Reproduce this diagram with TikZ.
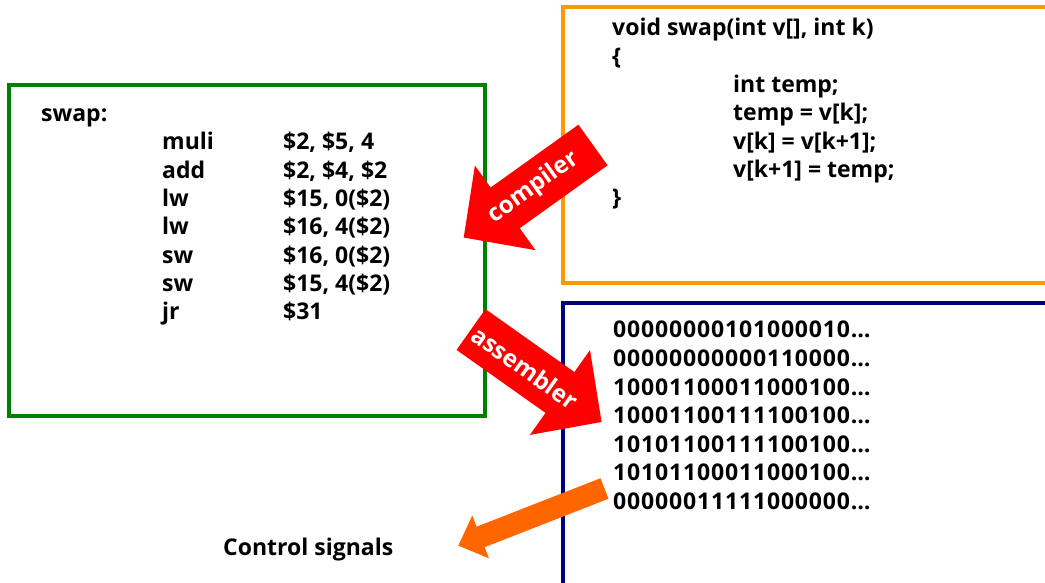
\documentclass[tikz,border=0pt]{standalone}
\usepackage{fontspec}
\setmainfont{Open Sans}
\definecolor{boxorange}{HTML}{FF9900}
\definecolor{boxblue}{HTML}{000080}
\definecolor{boxgreen}{HTML}{008000}
\definecolor{arrred}{HTML}{FF0000}
\definecolor{ctrlorange}{HTML}{FF6600}
\begin{document}
\begin{tikzpicture}[x=1pt,y=1pt,
  txt/.style={anchor=base west, inner sep=0pt, font=\fontsize{23}{28}\selectfont\bfseries},
  bintxt/.style={txt, font=\fontsize{23}{28}\selectfont\bfseries\addfontfeatures{LetterSpace=3.7}},
  wtxt/.style={inner sep=0pt, text=white, font=\fontsize{24}{28}\selectfont\bfseries},
  boxline/.style={line width=4pt}]
\useasboundingbox (0,0) rectangle (1045,582);
\clip (0,0) rectangle (1045,582);
% boxes
\draw[boxline, draw=boxorange] (563,575) rectangle (1070,299);
\draw[boxline, draw=boxblue] (563,279) rectangle (1070,-20);
\draw[boxline, draw=boxgreen] (9,497) rectangle (485,166);
% C code
\node[txt] (c1) at (612,546) {void swap(int v[], int k)};
\node[txt] (c2) at (612,517.5) {\{};
\node[txt] (c3) at (733,489) {int temp;};
\node[txt] (c4) at (733,461) {temp = v[k];};
\node[txt] (c5) at (733,432) {v[k] = v[k+1];};
\node[txt] (c6) at (733,404) {v[k+1] = temp;};
\node[txt] (c7) at (612,376) {\}};
% assembly
\node[txt] (a0) at (41,460) {swap:};
\node[txt] (o1) at (162,432) {muli};
\node[txt] (o2) at (162,403.7) {add};
\node[txt] (o3) at (162,375.3) {lw};
\node[txt] (o4) at (162,347) {lw};
\node[txt] (o5) at (162,318.7) {sw};
\node[txt] (o6) at (162,290.3) {sw};
\node[txt] (o7) at (162,262) {jr};
\node[txt] (r1) at (283,432) {\$2, \$5, 4};
\node[txt] (r2) at (283,403.7) {\$2, \$4, \$2};
\node[txt] (r3) at (283,375.3) {\$15, 0(\$2)};
\node[txt] (r4) at (283,347) {\$16, 4(\$2)};
\node[txt] (r5) at (283,318.7) {\$16, 0(\$2)};
\node[txt] (r6) at (283,290.3) {\$15, 4(\$2)};
\node[txt] (r7) at (283,262) {\$31};
% machine code
\node[bintxt] (b1) at (613,244) {00000000101000010…};
\node[bintxt] (b2) at (613,215.5) {00000000000110000…};
\node[bintxt] (b3) at (613,187) {10001100011000100…};
\node[bintxt] (b4) at (613,158.5) {10001100111100100…};
\node[bintxt] (b5) at (613,130) {10101100111100100…};
\node[bintxt] (b6) at (613,101.5) {10101100011000100…};
\node[bintxt] (b7) at (613,73) {00000011111000000…};
% control signals
\node[txt] (ctl) at (223,27) {Control signals};
% compiler arrow
\begin{scope}[shift={(593,437)}, rotate=215.6]
\fill[arrred] (0,-25) -- (108,-25) -- (108,-52) -- (159,0) -- (108,52) -- (108,25) -- (0,25) -- cycle;
\node[wtxt, rotate=35.6] (complbl) at (73,0) {compiler};
\end{scope}
% assembler arrow
\begin{scope}[shift={(471,252.5)}, rotate=-35.3]
\fill[arrred] (0,-25) -- (109,-25) -- (109,-52) -- (160,0) -- (109,52) -- (109,25) -- (0,25) -- cycle;
\node[wtxt, rotate=-35.3] (asmlbl) at (66,0) {assembler};
\end{scope}
% control arrow
\begin{scope}[shift={(604.5,93.5)}, rotate=201.35]
\fill[ctrlorange] (0,-11) -- (133,-11) -- (133,-23) -- (157,0) -- (133,23) -- (133,11) -- (0,11) -- cycle;
\end{scope}
\end{tikzpicture}
\end{document}
